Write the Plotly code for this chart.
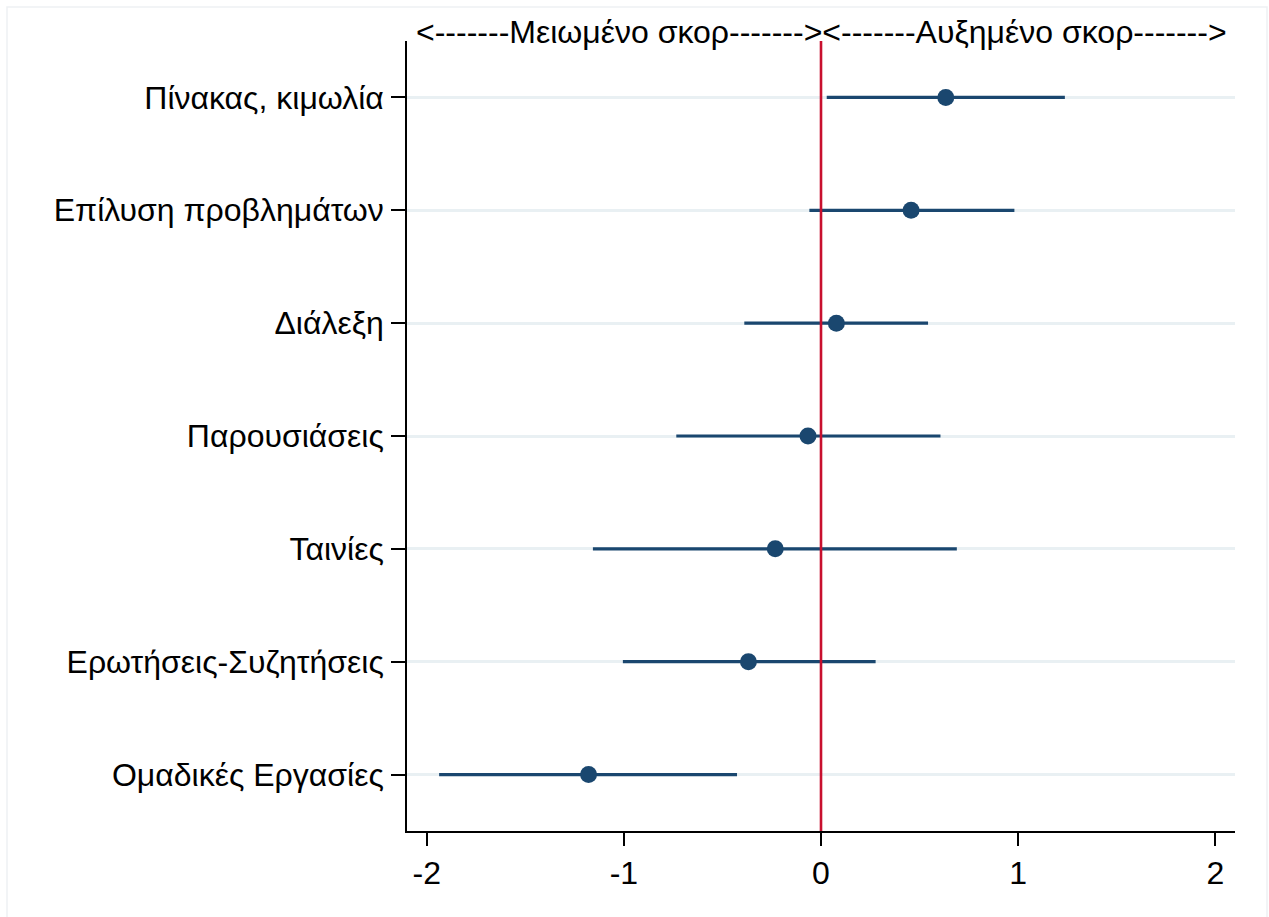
import plotly.graph_objects as go

# Teaching methods and their estimated effect on score, with 95% CI bounds
methods = [
    "Πίνακας, κιμωλία",
    "Επίλυση προβλημάτων",
    "Διάλεξη",
    "Παρουσιάσεις",
    "Ταινίες",
    "Ερωτήσεις-Συζητήσεις",
    "Ομαδικές Εργασίες",
]
estimate = [0.633, 0.457, 0.078, -0.066, -0.232, -0.368, -1.179]
ci_low = [0.029, -0.059, -0.389, -0.734, -1.157, -1.005, -1.937]
ci_high = [1.237, 0.981, 0.543, 0.606, 0.689, 0.277, -0.426]

x_ticks = [-2, -1, 0, 1, 2]
top_note = "<-------Μειωμένο σκορ-------><-------Αυξημένο σκορ------->"

NAVY = "#1a476f"
RED = "#c8102e"
GRID = "#e9f0f3"
FONT = "Liberation Sans, Arial, sans-serif"
FSIZE = 32

positions = list(range(1, len(methods) + 1))

fig = go.Figure()

# confidence interval spans
for pos, lo, hi in zip(positions, ci_low, ci_high):
    fig.add_trace(go.Scatter(
        x=[lo, hi], y=[pos, pos], mode="lines",
        line=dict(color=NAVY, width=3.2),
        hoverinfo="skip", showlegend=False,
    ))

# reference line at zero
fig.add_trace(go.Scatter(
    x=[0, 0], y=[0.5, len(methods) + 0.5], mode="lines",
    line=dict(color=RED, width=2.6),
    hoverinfo="skip", showlegend=False,
))

# point estimates
fig.add_trace(go.Scatter(
    x=estimate, y=positions, mode="markers",
    marker=dict(color=NAVY, size=17, line=dict(width=0)),
    showlegend=False,
))

fig.add_annotation(
    x=0, xref="x", y=1 + 9 / 790, yref="paper", yanchor="middle",
    text=top_note, showarrow=False,
    font=dict(family=FONT, size=FSIZE, color="black"),
)

# faint outer frame
fig.add_shape(
    type="rect", xref="paper", yref="paper",
    x0=-400 / 828, x1=(1267 - 407) / 828, y0=-0.2, y1=1 + 34 / 790,
    line=dict(color="#eef1f3", width=1.5), fillcolor="rgba(0,0,0,0)",
    layer="below",
)

fig.update_layout(
    width=1269, height=917,
    margin=dict(l=407, r=34, t=41, b=86),
    paper_bgcolor="white", plot_bgcolor="white",
    font=dict(family=FONT, size=FSIZE, color="black"),
    xaxis=dict(
        range=[-2.1, 2.1], tickvals=x_ticks,
        ticktext=[str(v) for v in x_ticks],
        showgrid=False, zeroline=False,
        showline=True, linecolor="black", linewidth=1.5,
        ticks="outside", ticklen=13, tickwidth=1.5, tickcolor="black",
        ticklabelstandoff=0,
    ),
    yaxis=dict(
        range=[len(methods) + 0.5, 0.5], tickvals=positions, ticktext=methods,
        showgrid=True, gridcolor=GRID, gridwidth=3, zeroline=False,
        showline=True, linecolor="black", linewidth=1.5,
        ticks="outside", ticklen=14, tickwidth=1.5, tickcolor="black",
        ticklabelstandoff=1,
    ),
)

fig.write_html("out.html")
